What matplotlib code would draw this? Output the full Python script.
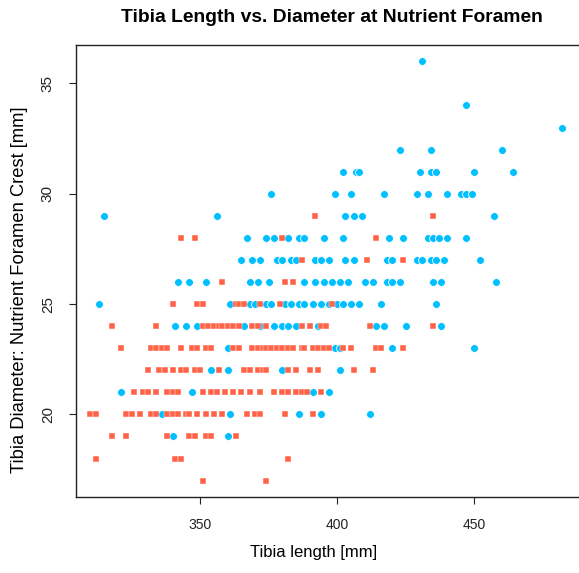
import matplotlib
matplotlib.use("Agg")
import matplotlib.pyplot as plt
import numpy as np

plt.rcParams['font.family'] = ['Liberation Sans', 'DejaVu Sans']

# Male (blue circles): diameter value -> tibia lengths
male_rows = {
    36: [431],
    34: [447],
    33: [482],
    32: [423, 434, 460],
    31: [402, 407, 408, 430, 434, 436, 450, 464],
    30: [376, 399, 405, 417, 429, 433, 440, 445, 447, 449],
    29: [315, 356, 403, 406, 409, 457],
    28: [367, 374, 377, 382, 386, 388, 395, 402, 419, 424, 433, 435, 437, 440, 447],
    27: [365, 369, 372, 378, 380, 383, 385, 392, 394, 397, 403, 406, 418, 420,
         429, 431, 434, 436, 439, 452],
    26: [342, 346, 352, 368, 371, 375, 388, 392, 395, 398, 401, 404, 410, 413,
         418, 420, 423, 435, 438, 458],
    25: [313, 361, 368, 370, 374, 376, 381, 383, 386, 388, 391, 394, 397, 400,
         402, 405, 408, 416, 436],
    24: [341, 345, 349, 366, 372, 377, 380, 382, 385, 393, 414, 417, 425, 438],
    23: [360, 399, 401, 420, 450],
    22: [354, 360, 380, 401],
    21: [321, 347, 391, 397],
    20: [336, 361, 386, 394, 412],
    19: [340, 360],
}

# Female (red squares)
female_rows = {
    29: [392, 435],
    28: [343, 348, 380, 414],
    27: [387, 411, 424],
    26: [358, 381, 384],
    25: [340, 349, 351, 363, 364, 366, 372, 379, 398],
    24: [318, 334, 351, 353, 355, 357, 358, 360, 362, 364, 369, 371, 374, 387,
         390, 394, 396, 412, 435],
    23: [321, 332, 334, 336, 338, 343, 347, 349, 352, 354, 362, 364, 369, 371,
         373, 374, 376, 378, 380, 382, 384, 387, 388, 391, 393, 395, 397, 402,
         405, 414, 416, 424],
    22: [331, 335, 337, 340, 343, 345, 348, 350, 357, 366, 368, 371, 373, 374,
         382, 385, 390, 393, 406, 413],
    21: [326, 329, 331, 334, 338, 340, 342, 351, 354, 356, 359, 362, 365, 368,
         372, 377, 380, 382, 385, 387, 389, 394],
    20: [310, 312, 323, 325, 328, 332, 334, 338, 340, 342, 345, 346, 349, 352,
         355, 358, 367, 370, 372, 381, 391],
    19: [318, 323, 338, 346, 348, 352, 354, 363],
    18: [312, 341, 343, 382],
    17: [351, 374],
}

male_length = [x for d, xs in male_rows.items() for x in xs]
male_diam = [d for d, xs in male_rows.items() for x in xs]
female_length = [x for d, xs in female_rows.items() for x in xs]
female_diam = [d for d, xs in female_rows.items() for x in xs]

x_ticks = [350, 400, 450]
y_ticks = [20, 25, 30, 35]

fig = plt.figure(figsize=(5.79, 5.73), dpi=100)
ax = fig.add_axes([0.1307, 0.1332, 0.8733, 0.7883])

ax.scatter(male_length, male_diam, marker='o', s=32, facecolor='#00BFFF',
           edgecolor='white', linewidth=0.6, zorder=2)
ax.scatter(female_length, female_diam, marker='s', s=21, facecolor='#FF6347',
           edgecolor='white', linewidth=0.3, zorder=3)

ax.set_xlim(304.6, 489.0)
ax.set_ylim(16.27, 36.74)
ax.set_xticks(x_ticks)
ax.set_yticks(y_ticks)
ax.tick_params(axis='both', direction='out', length=5, width=0.8,
               colors='#222222')
ax.tick_params(axis='x', labelsize=10, pad=10)
ax.tick_params(axis='y', labelsize=11, pad=10)
for lab in ax.get_yticklabels():
    lab.set_rotation(90)
    lab.set_va('center')
for sp in ax.spines.values():
    sp.set_linewidth(1.0)
    sp.set_color('#222222')

fig.text(314 / 579, 1 - 553 / 573, 'Tibia length [mm]', ha='center',
         va='center', fontsize=12)
fig.text(20 / 579, 1 - 290 / 573, 'Tibia Diameter: Nutrient Foramen Crest [mm]',
         ha='center', va='center', rotation=90, fontsize=13.2)
fig.text(331.5 / 579, 1 - 18 / 573, 'Tibia Length vs. Diameter at Nutrient Foramen',
         ha='center', va='center', fontsize=13.9, fontweight='bold')

fig.savefig('out.png', dpi=100)
